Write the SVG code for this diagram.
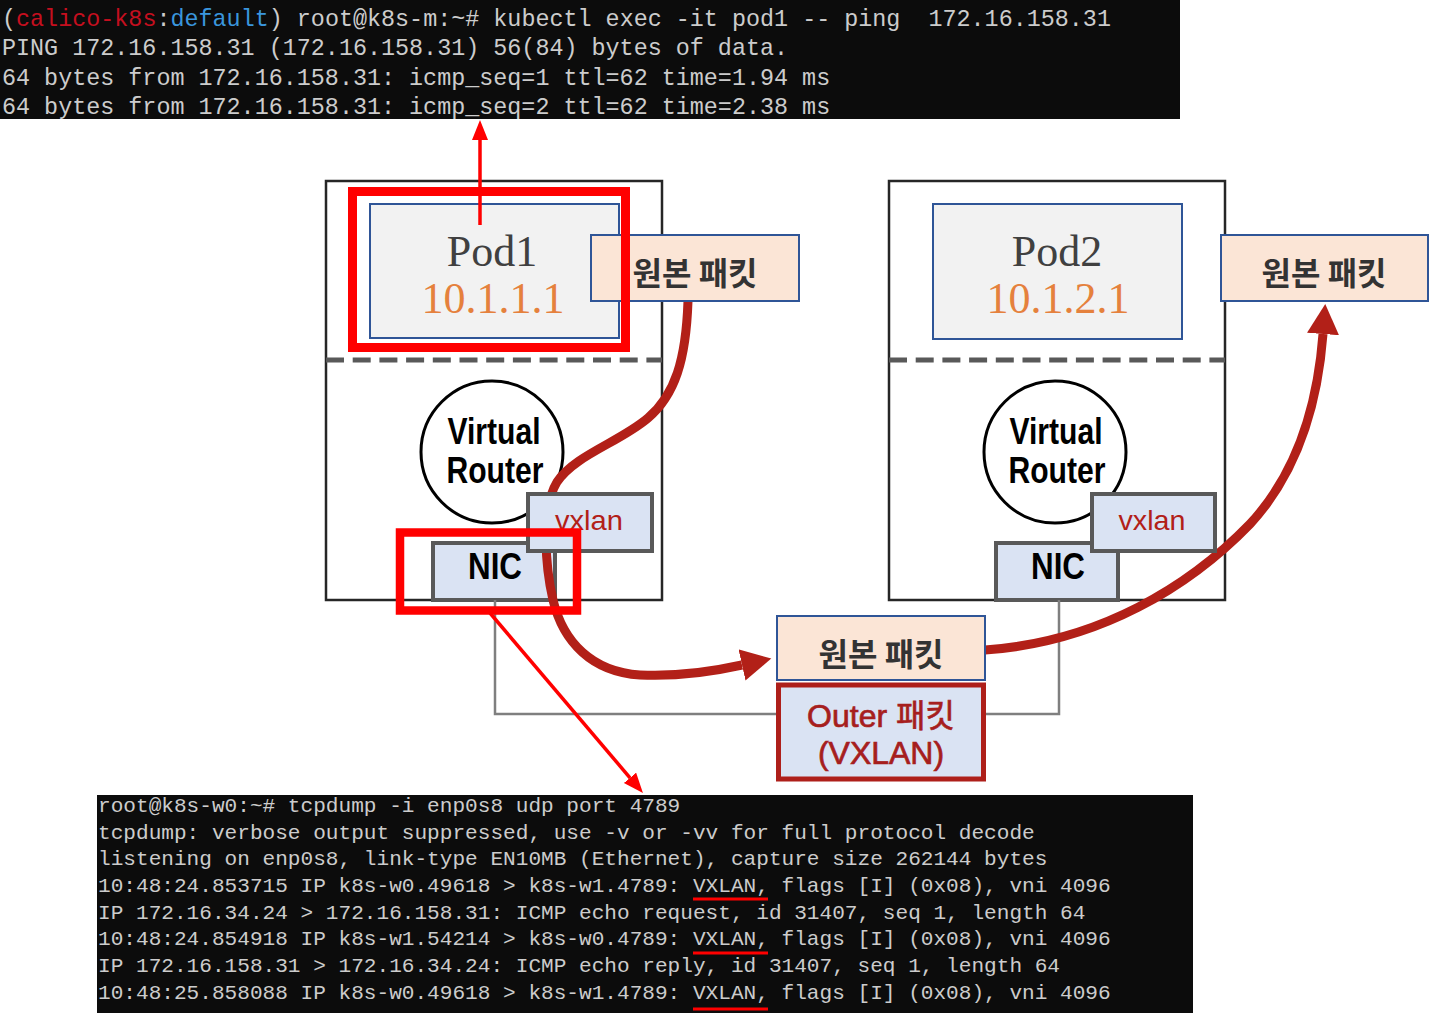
<svg xmlns="http://www.w3.org/2000/svg" width="1438" height="1013" viewBox="0 0 1438 1013">
<style>
.bg{fill:#0c0c0c}
.term{font-family:"Liberation Mono","DejaVu Sans Mono",monospace;fill:#cccccc;white-space:pre}
.t1{font-size:23.4px}
.t2{font-size:21.1px}
.host{fill:#ffffff;stroke:#262626;stroke-width:2.5}
.pod{fill:#f2f2f2;stroke:#2f5597;stroke-width:2}
.podname{font-family:"Liberation Serif",serif;font-size:44px;fill:#404040;text-anchor:middle}
.podip{font-family:"Liberation Serif",serif;font-size:44px;fill:#e5813d;text-anchor:middle}
.dash{stroke:#595959;stroke-width:5;stroke-dasharray:18 8.7;fill:none}
.router{fill:#ffffff;stroke:#000000;stroke-width:3}
.sans{font-family:"Liberation Sans","Noto Sans CJK KR",sans-serif}
.rt{font-size:37px;font-weight:700;fill:#000000;text-anchor:middle}
.iface{fill:#dae3f3;stroke:#595959;stroke-width:4}
.vx{font-size:28px;fill:#b22018;text-anchor:middle}
.nic{font-size:36px;font-weight:700;fill:#000000;text-anchor:middle}
.pkt{fill:#fbe5d6;stroke:#2f5597;stroke-width:2}
.pkttext{font-family:"Noto Sans CJK KR",sans-serif;font-size:32px;font-weight:700;fill:#333333;text-anchor:middle}
.outer{fill:#dae3f3;stroke:#ae1f1a;stroke-width:5}
.outertext{font-size:32px;fill:#a61e1e;stroke:#a61e1e;stroke-width:0.7;text-anchor:middle}
.net{fill:none;stroke:#7f7f7f;stroke-width:2.5}
.flow{fill:none;stroke:#b22018;stroke-width:9}
.ptr{fill:none;stroke:#ff0000;stroke-width:3.5}
.hl{fill:none;stroke:#ff0000}
.ul{stroke:#ff0000;stroke-width:3}
</style>
<defs>
<marker id="flowHead" markerUnits="userSpaceOnUse" markerWidth="32" markerHeight="34" refX="0" refY="16" orient="auto">
<path d="M0,0 L30,16 L0,32 z" fill="#b22018"/>
</marker>
<marker id="redHead" markerUnits="userSpaceOnUse" markerWidth="22" markerHeight="18" refX="0" refY="8" orient="auto">
<path d="M0,0 L20,8 L0,16 z" fill="#ff0000"/>
</marker>
</defs>

<g id="terminal-ping">
<rect class="bg" x="0" y="0" width="1180" height="119"/>
<text class="term t1" x="2" y="26">(<tspan fill="#c50f1f">calico-k8s</tspan>:<tspan fill="#3a96dd">default</tspan>) root@k8s-m:~# kubectl exec -it pod1 -- ping  172.16.158.31</text>
<text class="term t1" x="2" y="55">PING 172.16.158.31 (172.16.158.31) 56(84) bytes of data.</text>
<text class="term t1" x="2" y="85">64 bytes from 172.16.158.31: icmp_seq=1 ttl=62 time=1.94 ms</text>
<text class="term t1" x="2" y="114">64 bytes from 172.16.158.31: icmp_seq=2 ttl=62 time=2.38 ms</text>
</g>

<g id="host1">
<rect class="host" x="326" y="181" width="336" height="419"/>
<line class="dash" x1="326" y1="360" x2="662" y2="360"/>
<g id="pod1">
<rect class="pod" x="370" y="204" width="249" height="134"/>
<text class="podname" x="492" y="266">Pod1</text>
<text class="podip" x="493" y="313">10.1.1.1</text>
</g>
<g id="router1">
<circle class="router" cx="492" cy="452" r="71"/>
<text class="sans rt" x="494" y="444" textLength="93" lengthAdjust="spacingAndGlyphs">Virtual</text>
<text class="sans rt" x="495" y="483" textLength="97" lengthAdjust="spacingAndGlyphs">Router</text>
</g>
<g id="nic1">
<rect class="iface" x="433" y="543" width="122" height="57"/>
<text class="sans nic" x="495" y="579" textLength="54" lengthAdjust="spacingAndGlyphs">NIC</text>
</g>
</g>

<g id="host2">
<rect class="host" x="889" y="181" width="336" height="419"/>
<line class="dash" x1="889" y1="360" x2="1225" y2="360"/>
<g id="pod2">
<rect class="pod" x="933" y="204" width="249" height="135"/>
<text class="podname" x="1057" y="266">Pod2</text>
<text class="podip" x="1058" y="313">10.1.2.1</text>
</g>
<g id="router2">
<circle class="router" cx="1055" cy="452" r="71"/>
<text class="sans rt" x="1056" y="444" textLength="93" lengthAdjust="spacingAndGlyphs">Virtual</text>
<text class="sans rt" x="1057" y="483" textLength="97" lengthAdjust="spacingAndGlyphs">Router</text>
</g>
<g id="nic2">
<rect class="iface" x="996" y="543" width="122" height="57"/>
<text class="sans nic" x="1058" y="579" textLength="54" lengthAdjust="spacingAndGlyphs">NIC</text>
</g>
</g>

<g id="connectors">
<path class="net" d="M495,600 V714 H1059 V600"/>
<path class="flow" d="M688,301 C686,360 675,395 648,418 C620,442 575,455 557,482 C540,510 546,570 553,600 C563,642 592,672 640,675 C680,677 715,671 742,665" marker-end="url(#flowHead)"/>
<path class="flow" d="M985,650 C1100,642 1190,586 1250,524 C1300,470 1318,400 1323,334" marker-end="url(#flowHead)"/>
<line class="ptr" x1="480" y1="225" x2="480" y2="140" marker-end="url(#redHead)"/>
<line class="ptr" x1="490" y1="613" x2="630" y2="777.8" marker-end="url(#redHead)"/>
</g>

<g id="vxlan1">
<rect class="iface" x="528" y="494" width="124" height="57"/>
<text class="sans vx" x="589" y="530" textLength="68" lengthAdjust="spacingAndGlyphs">vxlan</text>
</g>
<g id="vxlan2">
<rect class="iface" x="1092" y="494" width="123" height="57"/>
<text class="sans vx" x="1152" y="530" textLength="67" lengthAdjust="spacingAndGlyphs">vxlan</text>
</g>

<g id="packet1">
<rect class="pkt" x="591" y="235" width="208" height="66"/>
<text class="pkttext" x="695" y="285">원본 패킷</text>
</g>
<g id="packet2">
<rect class="pkt" x="1221" y="235" width="207" height="66"/>
<text class="pkttext" x="1324" y="285">원본 패킷</text>
</g>
<g id="packet-inner">
<rect class="pkt" x="777" y="616" width="208" height="64"/>
<text class="pkttext" x="881" y="666">원본 패킷</text>
</g>
<g id="packet-outer">
<rect class="outer" x="778.5" y="685" width="205" height="94"/>
<text class="sans outertext" x="881" y="727">Outer 패킷</text>
<text class="sans outertext" x="881" y="764">(VXLAN)</text>
</g>

<g id="highlights">
<rect class="hl" x="352.5" y="191.5" width="273" height="156" stroke-width="9"/>
<rect class="hl" x="400" y="532.5" width="177" height="78" stroke-width="8.5"/>
</g>

<g id="terminal-tcpdump">
<rect class="bg" x="97" y="795" width="1096" height="218"/>
<text class="term t2" x="98" y="812">root@k8s-w0:~# tcpdump -i enp0s8 udp port 4789</text>
<text class="term t2" x="98" y="839">tcpdump: verbose output suppressed, use -v or -vv for full protocol decode</text>
<text class="term t2" x="98" y="865">listening on enp0s8, link-type EN10MB (Ethernet), capture size 262144 bytes</text>
<text class="term t2" x="98" y="892">10:48:24.853715 IP k8s-w0.49618 &gt; k8s-w1.4789: VXLAN, flags [I] (0x08), vni 4096</text>
<text class="term t2" x="98" y="919">IP 172.16.34.24 &gt; 172.16.158.31: ICMP echo request, id 31407, seq 1, length 64</text>
<text class="term t2" x="98" y="945">10:48:24.854918 IP k8s-w1.54214 &gt; k8s-w0.4789: VXLAN, flags [I] (0x08), vni 4096</text>
<text class="term t2" x="98" y="972">IP 172.16.158.31 &gt; 172.16.34.24: ICMP echo reply, id 31407, seq 1, length 64</text>
<text class="term t2" x="98" y="999">10:48:25.858088 IP k8s-w0.49618 &gt; k8s-w1.4789: VXLAN, flags [I] (0x08), vni 4096</text>
<line class="ul" x1="693" y1="899" x2="768" y2="899"/>
<line class="ul" x1="693" y1="953" x2="768" y2="953"/>
<line class="ul" x1="693" y1="1009" x2="768" y2="1009"/>
</g>
</svg>
